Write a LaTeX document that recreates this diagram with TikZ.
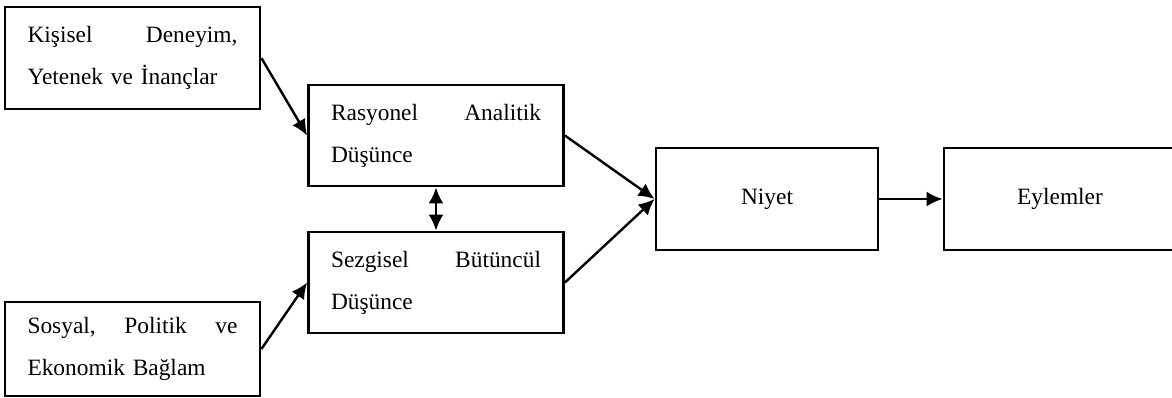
\documentclass[tikz,border=0pt]{standalone}
\usepackage{fontspec}
\setmainfont{Liberation Serif}
\usetikzlibrary{arrows.meta}
\begin{document}
\begin{tikzpicture}[x=0.5pt,y=-0.5pt,
    box/.style={draw,line width=1.4pt,minimum height=51pt,inner xsep=11.25pt,
      font=\fontsize{11.7}{21}\selectfont},
    textbox/.style={box,text width=105pt,align=left},
    arr/.style={line width=1.2pt,-{Latex[length=8pt,width=7.5pt]}}]
      \useasboundingbox (0,0) rectangle (1172,397);
      \draw
        (132.5,58) node[textbox,minimum width=127.5pt] (kisisel){Kişisel\hfill Deneyim,\\Yetenek ve İnançlar}
        (132.5,349) node[textbox,minimum width=127.5pt,minimum height=47pt] (sosyal){Sosyal,\hfill Politik\hfill ve\\Ekonomik Bağlam}
        (436,135.5) node[textbox,minimum width=127pt,minimum height=50.5pt] (rasyonel){Rasyonel\hfill Analitik\\Düşünce}
        (436,282.5) node[textbox,minimum width=127pt,minimum height=50.5pt] (sezgisel){Sezgisel\hfill Bütüncül\\Düşünce}
        (767,199) node[box,minimum width=111pt] (niyet){Niyet}
        (1060,199) node[box,minimum width=116pt] (eylemler){Eylemler};
      \begin{scope}[arr]
        \draw (kisisel.east) to (rasyonel.west);
        \draw (sosyal.east) to (sezgisel.west);
        \draw (rasyonel.east) to (niyet.west);
        \draw (sezgisel.east) to (niyet.west);
        \draw (niyet.east) to (eylemler.west);
        \draw[{Latex[length=8pt,width=7.5pt]}-{Latex[length=8pt,width=7.5pt]}] (rasyonel.south) to (sezgisel.north);
      \end{scope}
    \end{tikzpicture}
\end{document}
